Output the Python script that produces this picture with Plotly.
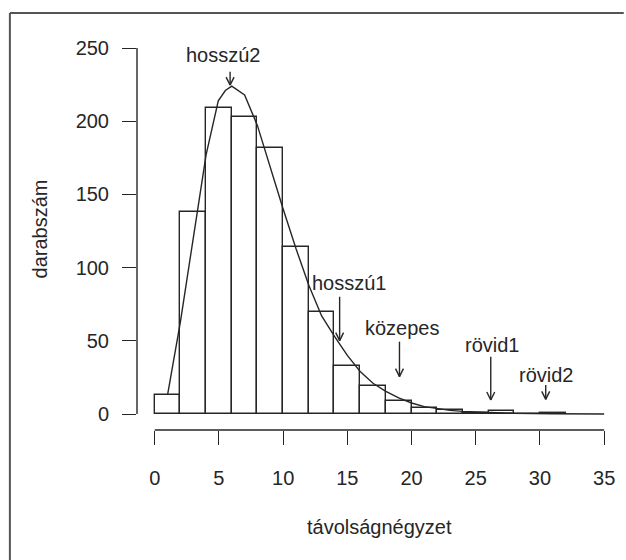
import plotly.graph_objects as go

# ---- data ----
bin_left = [0, 2, 4, 6, 8, 10, 12, 14, 16, 18, 20, 22, 24, 26, 28, 30]
counts = [13, 138, 209, 203, 182, 114, 70, 33, 19, 9, 4, 3, 1, 2, 0, 1]
bin_width = 2

curve_x = [1.0, 2.0, 3.0, 4.0, 4.95, 5.5, 6.0, 7.0, 8.0, 9.0, 10.0, 11.0, 12.0, 13.0,
           14.0, 15.0, 16.0, 17.0, 18.0, 19.0, 20.0, 21.0, 22.0, 23.0, 24.0, 26.0, 28.0, 31.0, 35.0]
curve_y = [13, 63, 120, 177, 214, 221, 224, 218, 197, 168, 140, 113, 88, 67,
           53, 40, 29, 21, 15.5, 11, 7.5, 5, 3.5, 2.5, 1.8, 1.0, 0.5, 0.2, 0]

labels = ["hosszú2", "hosszú1", "közepes", "rövid1", "rövid2"]
label_x = [5.37, 15.19, 19.26, 26.25, 30.46]
label_y = [245.2, 89.5, 58.7, 47.3, 26.9]
arrow_x = [5.87, 14.4, 19.06, 26.17, 30.45]
arrow_y0 = [233.8, 80.1, 49.4, 39.1, 19.8]
arrow_y1 = [224.7, 50.1, 25.5, 9.6, 10.0]

x_ticks = [0, 5, 10, 15, 20, 25, 30, 35]
y_ticks = [0, 50, 100, 150, 200, 250]

# ---- layout geometry ----
W, H = 626, 560
ml, mr, mt, mb = 137, 11, 40, 130
x_range = [-1.38, 35.3]
y_range = [-10.93, 255.5]
pw = W - ml - mr
ph = H - mt - mb
px_per_x = pw / (x_range[1] - x_range[0])
px_per_y = ph / (y_range[1] - y_range[0])

def px_to_paper_x(px):
    return (px - ml) / pw

def px_to_paper_y(py):
    return (H - mb - py) / ph

ink = "#262626"
font = dict(family="Liberation Sans, Arial, Helvetica, sans-serif", size=20, color=ink)

fig = go.Figure()

fig.add_trace(go.Bar(
    x=[b + bin_width / 2 for b in bin_left], y=counts, width=bin_width,
    marker=dict(color="white", line=dict(color=ink, width=1.4)),
    hoverinfo="skip", showlegend=False,
))

fig.add_trace(go.Scatter(
    x=curve_x, y=curve_y, mode="lines",
    line=dict(color=ink, width=1.4), hoverinfo="skip", showlegend=False,
))

shapes = []
# axis lines (R style, only over tick span)
shapes.append(dict(type="line", xref="paper", yref="y", x0=0, x1=0,
                   y0=y_ticks[0], y1=y_ticks[-1], line=dict(color=ink, width=1.4)))
shapes.append(dict(type="line", xref="x", yref="paper", x0=x_ticks[0], x1=x_ticks[-1],
                   y0=0, y1=0, line=dict(color=ink, width=1.4)))

# arrows
head_len_px, head_half_px = 8, 4
for ax, a0, a1 in zip(arrow_x, arrow_y0, arrow_y1):
    shapes.append(dict(type="line", xref="x", yref="y", x0=ax, x1=ax, y0=a0, y1=a1,
                       line=dict(color=ink, width=1.4)))
    dx = head_half_px / px_per_x
    dy = head_len_px / px_per_y
    for s in (-1, 1):
        shapes.append(dict(type="line", xref="x", yref="y", x0=ax + s * dx, x1=ax,
                           y0=a1 + dy, y1=a1, line=dict(color=ink, width=1.4)))

# outer frame (left and top edges visible)
shapes.append(dict(type="line", xref="paper", yref="paper",
                   x0=px_to_paper_x(8), x1=px_to_paper_x(8),
                   y0=px_to_paper_y(13), y1=px_to_paper_y(H + 5),
                   line=dict(color="#555", width=2)))
shapes.append(dict(type="line", xref="paper", yref="paper",
                   x0=px_to_paper_x(8), x1=px_to_paper_x(W + 5),
                   y0=px_to_paper_y(13), y1=px_to_paper_y(13),
                   line=dict(color="#555", width=2)))

annotations = []
for t, lx, ly in zip(labels, label_x, label_y):
    annotations.append(dict(text=t, x=lx, y=ly, xref="x", yref="y", showarrow=False,
                            font=font, xanchor="center", yanchor="middle"))
annotations.append(dict(text="darabszám", xref="paper", yref="paper",
                        x=px_to_paper_x(39), y=px_to_paper_y(229), textangle=-90,
                        showarrow=False, font=font, xanchor="center", yanchor="middle"))
annotations.append(dict(text="távolságnégyzet", xref="paper", yref="paper",
                        x=px_to_paper_x(383), y=px_to_paper_y(527),
                        showarrow=False, font=font, xanchor="center", yanchor="middle"))

fig.update_layout(
    width=W, height=H,
    margin=dict(l=ml, r=mr, t=mt, b=mb, pad=0),
    paper_bgcolor="white", plot_bgcolor="white",
    bargap=0, shapes=shapes, annotations=annotations,
    xaxis=dict(range=x_range, tickvals=x_ticks, ticktext=[str(v) for v in x_ticks],
               ticks="outside", ticklen=14, tickwidth=1.4, tickcolor=ink,
               showline=False, showgrid=False, zeroline=False, tickfont=font,
               ticklabelstandoff=16, fixedrange=True),
    yaxis=dict(range=y_range, tickvals=y_ticks, ticktext=[str(v) for v in y_ticks],
               ticks="outside", ticklen=14, tickwidth=1.4, tickcolor=ink,
               showline=False, showgrid=False, zeroline=False, tickfont=font,
               ticklabelstandoff=9, fixedrange=True),
)

fig.write_html("out.html", config={"displayModeBar": False},
               post_script="document.body.style.margin='0px';document.body.style.overflow='hidden';")
